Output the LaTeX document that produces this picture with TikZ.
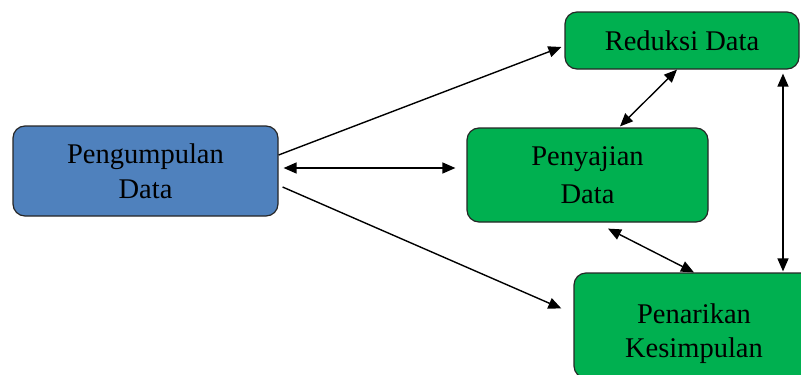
\documentclass[tikz,border=0pt]{standalone}
\usepackage{fontspec}
\setmainfont{Liberation Serif}
\usetikzlibrary{arrows.meta}
\definecolor{boxblue}{HTML}{4F81BD}
\definecolor{boxgreen}{HTML}{00B050}
\begin{document}
\begin{tikzpicture}[x=1pt,y=-1pt,
  box/.style={draw=black!85,line width=1.2pt,rounded corners=12pt,align=center,inner sep=0pt,
    font=\fontsize{28.5}{35}\selectfont},
  bluebox/.style={box,fill=boxblue},
  greenbox/.style={box,fill=boxgreen},
  arr/.style={line width=1.4pt,-{Triangle[length=13pt,width=11pt]}},
  darr/.style={line width=1.4pt,{Triangle[length=13pt,width=11pt]}-{Triangle[length=13pt,width=11pt]}}]
\useasboundingbox (0,0) rectangle (801,375);
\clip (0,0) rectangle (801,375);
\node[bluebox,minimum width=265pt,minimum height=90pt] (pd) at (145.5,171) {Pengumpulan\\Data};
\node[greenbox,minimum width=234pt,minimum height=57pt] (rd) at (682,40.5) {Reduksi Data};
\node[greenbox,minimum width=241pt,minimum height=94pt,font=\fontsize{28.5}{38}\selectfont] (ps) at (587.5,175) {Penyajian\\Data};
\node[greenbox,minimum width=240pt,minimum height=105pt,text depth=0pt] (pk) at (694,325.5) {\raisebox{13pt}{\begin{tabular}{@{}c@{}}Penarikan\\[-1pt]Kesimpulan\end{tabular}}};
\draw[arr] ([yshift=16pt]pd.east) -- ([xshift=-3pt,yshift=-6.5pt]rd.west);
\draw[darr] ([xshift=5pt,yshift=3pt]pd.east) -- ([xshift=-11pt,yshift=7pt]ps.west);
\draw[arr] ([xshift=4pt,yshift=-16pt]pd.east) -- ([xshift=-12pt,yshift=17pt]pk.west);
\draw[darr] ([xshift=-5pt]rd.south) -- ([xshift=32.5pt,yshift=1pt]ps.north);
\draw[darr] ([xshift=20.5pt,yshift=-6pt]ps.south) -- (pk.north);
\draw[darr] ([xshift=101pt,yshift=-4pt]rd.south) -- ([xshift=89pt,yshift=1pt]pk.north);
\end{tikzpicture}
\end{document}
